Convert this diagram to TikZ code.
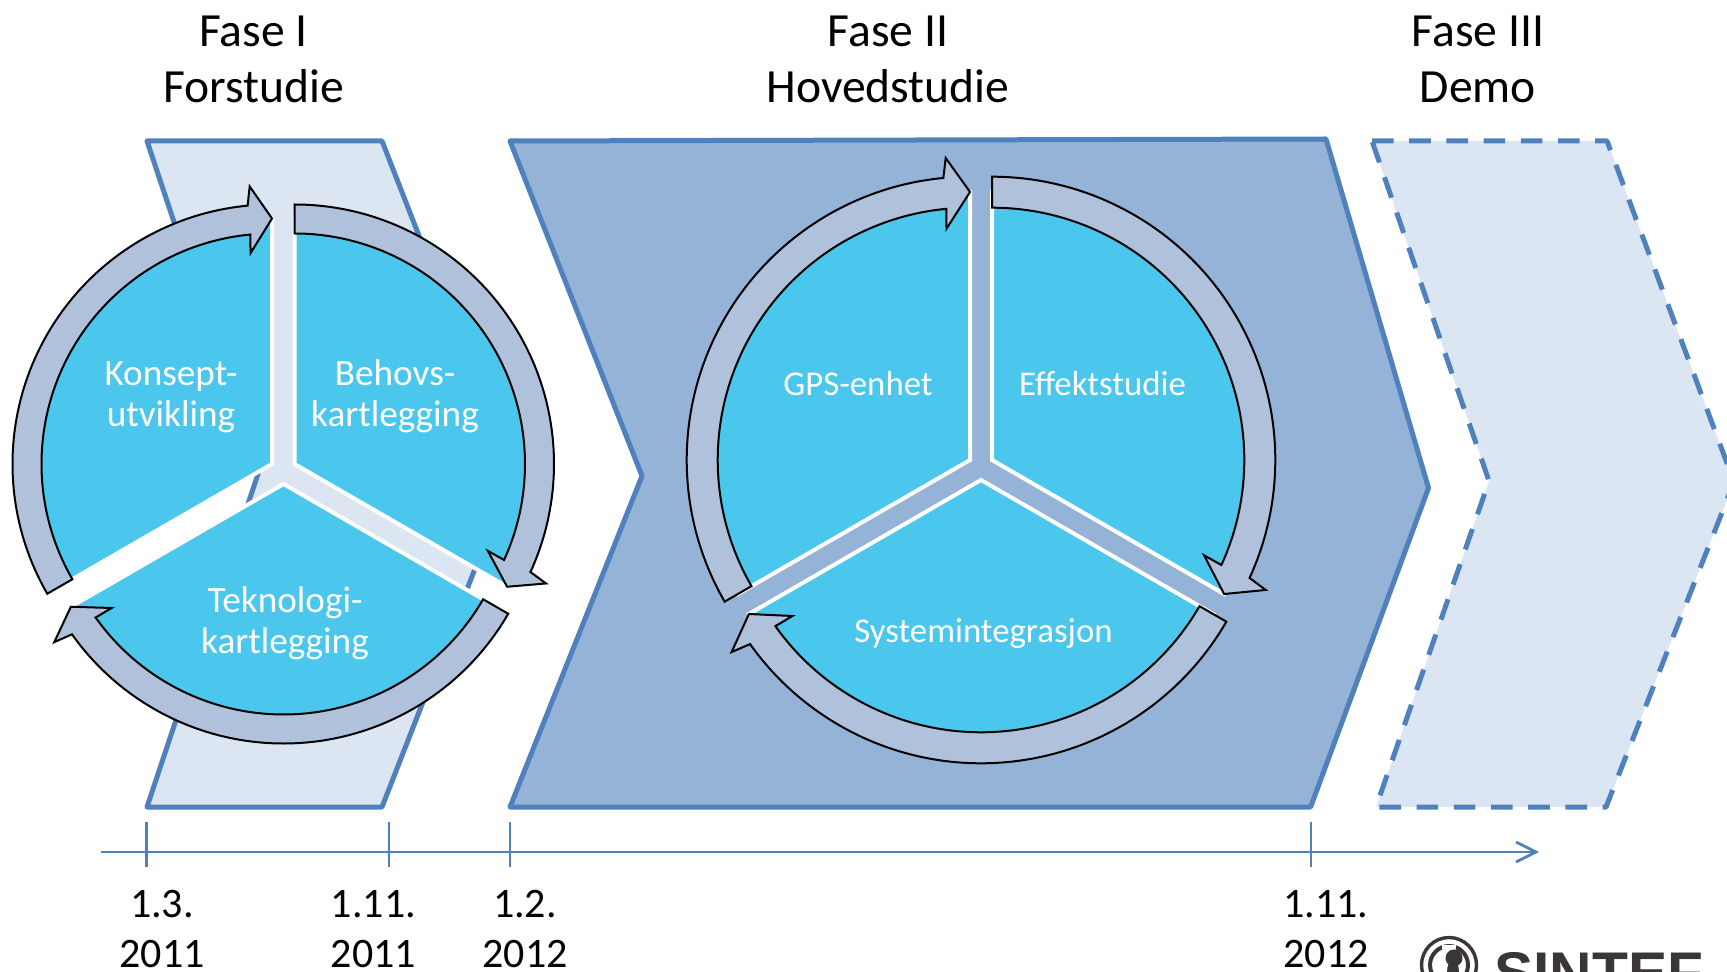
\documentclass[tikz,border=0pt]{standalone}
\usepackage{fontspec}
\setmainfont{Carlito}
\newfontfamily\logofont{Liberation Sans}
\definecolor{edgeblue}{HTML}{4F81BD}
\definecolor{palefill}{HTML}{DCE6F2}
\definecolor{midfill}{HTML}{95B3D7}
\definecolor{sectorblue}{HTML}{4BC6EC}
\definecolor{ringfill}{HTML}{B0C1DC}
\definecolor{logodark}{HTML}{3A3536}
\tikzset{
  phase/.style={draw=edgeblue,line width=2.5pt,line join=round},
  phasedash/.style={phase,dash pattern=on 10.8pt off 7.8pt},
  sector/.style={fill=sectorblue,draw=white,line width=2pt,line join=miter},
  ring/.style={fill=ringfill,draw=black,line width=1pt,line join=miter},
  tick/.style={draw=edgeblue,line width=1.2pt},
  axis/.style={draw=edgeblue,line width=1.4pt},
  title/.style={font=\fontsize{23.8}{28}\selectfont,align=center,anchor=base,inner sep=0pt},
  datelabel/.style={font=\fontsize{21}{25}\selectfont,align=center,anchor=base,inner sep=0pt},
  seclabel/.style={text=white,font=\fontsize{18.6}{20.5}\selectfont,align=center,anchor=base,inner sep=0pt},
  seclabelb/.style={text=white,font=\fontsize{17.4}{20.5}\selectfont,align=center,anchor=base,inner sep=0pt},
}
% #1 apex, #2 start angle: pie of 120 degrees
\newcommand{\pieat}[2]{%
  \begin{scope}[shift={#1}]
    \pgfmathsetmacro{\aE}{#2-120}
    \draw[sector] (0,0) -- (#2:\Rt) arc[start angle=#2,end angle=\aE,radius=\Rt] -- cycle;
  \end{scope}}
\newcommand{\arrowat}[2]{%
  \begin{scope}[shift={#1}]
    \pgfmathsetmacro{\aB}{#2-114.6}
    \pgfmathsetmacro{\aT}{#2-120}
    \pgfmathsetmacro{\aO}{#2-115.4}
    \pgfmathsetmacro{\aI}{#2-114.2}
    \draw[ring] (#2:\Ro) arc[start angle=#2,end angle=\aB,radius=\Ro]
      -- (\aO:\Rh) -- (\aT:\Rt) -- (\aI:\Rhi) -- (\aB:\Ri)
      arc[start angle=\aB,end angle=#2,radius=\Ri] -- cycle;
  \end{scope}}
\begin{document}
\begin{tikzpicture}[x=0.5pt,y=0.5pt]
\useasboundingbox (0,-972) rectangle (1727,0);
\clip (0,-972) rectangle (1727,0);
% phases
\draw[phase,fill=palefill] (147,-141) -- (382,-141) -- (512,-474) -- (382,-807) -- (147,-807) -- (258,-474) -- cycle;
\draw[phase,fill=midfill] (510,-141) -- (1326,-139) -- (1428.5,-488) -- (1310.6,-807) -- (510,-807) -- (642,-476) -- cycle;
\fill[palefill] (1372,-141) -- (1607,-141) -- (1734,-482) -- (1606,-807) -- (1376,-807) -- (1489,-481) -- cycle;
\draw[phasedash] (1372,-141) -- (1607,-141) -- (1734,-482) -- (1606,-807) -- (1376,-807) -- (1489,-481) -- cycle;
% left cycle
\def\Ro{259.5}\def\Ri{230.5}\def\Rh{278.5}\def\Rhi{212}\def\Rt{245.5}
\pieat{(294.5,-464)}{90}
\pieat{(283.5,-484)}{-30}
\pieat{(272,-464)}{210}
\arrowat{(294.5,-464)}{90}
\arrowat{(283.5,-484)}{-30}
\arrowat{(272,-464)}{210}
% right cycle
\def\Ro{283.3}\def\Ri{252.3}\def\Rh{303}\def\Rhi{232.5}\def\Rt{268}
\pieat{(992,-460)}{90}
\pieat{(981,-480)}{-30}
\pieat{(970,-460)}{210}
\arrowat{(992,-460)}{90}
\arrowat{(981,-480)}{-30}
\arrowat{(970,-460)}{210}
% titles
\node[title] (t1) at (253.5,-103) {Fase I\\Forstudie};
\node[title] (t2) at (888,-103) {Fase II\\Hovedstudie};
\node[title] (t3) at (1478,-103) {Fase III\\Demo};
% sector labels
\node[seclabel] (s1) at (171,-427) {Konsept-\\utvikling};
\node[seclabel] (s2) at (395,-427) {Behovs-\\kartlegging};
\node[seclabel] (s3) at (285,-653) {Teknologi-\\kartlegging};
\node[seclabelb] (s4) at (858,-396) {GPS-enhet};
\node[seclabelb] (s5) at (1102.5,-396) {Effektstudie};
\node[seclabelb] (s6) at (983.5,-642) {Systemintegrasjon};
% time axis
\coordinate (axs) at (101,-852);
\coordinate (axe) at (1536,-852);
\draw[axis] (axs) -- (axe);
\draw[axis] (1516,-842) -- (axe) -- (1516,-862);
\foreach \tx in {146.5,389,510,1311}{\draw[tick] (\tx,-822) -- (\tx,-867);}
% dates
\node[datelabel] (d1) at (162,-967) {1.3.\\2011};
\node[datelabel] (d2) at (373.5,-967) {1.11.\\2011};
\node[datelabel] (d3) at (525,-967) {1.2.\\2012};
\node[datelabel] (d4) at (1326,-967) {1.11.\\2012};
% logo
\draw[logodark,line width=1.7pt] (1449,-965) circle[radius=27.5];
\draw[logodark,line width=2pt] (1449,-965) circle[radius=19];
\fill[white] (1456,-945) rectangle (1442,-949);
\fill[logodark] (1454,-958) circle[radius=8.5];
\fill[logodark] (1453,-972) ellipse[x radius=6,y radius=12];
\node[logodark,anchor=base west,inner sep=0pt,font=\logofont\bfseries\fontsize{29.4}{30}\selectfont] (logo) at (1494,-993) {SINTEF};
\end{tikzpicture}
\end{document}
